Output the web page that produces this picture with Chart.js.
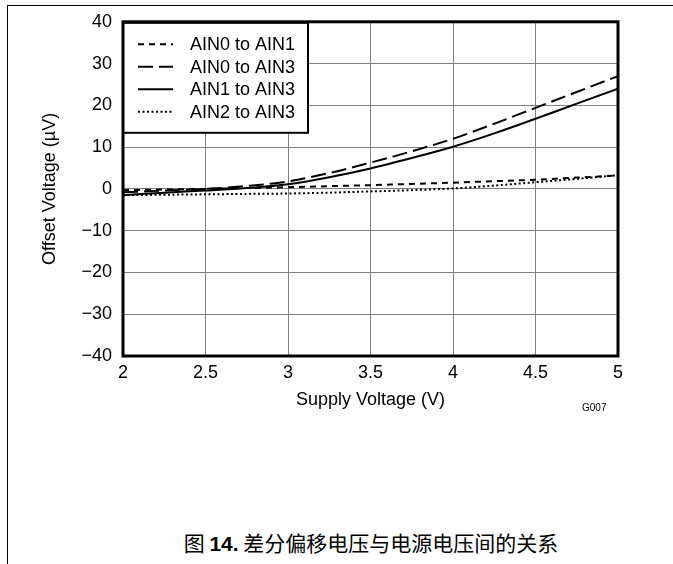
<!DOCTYPE html>
<html>
<head>
<meta charset="utf-8">
<script src="https://cdn.jsdelivr.net/npm/chart.js@4"></script>
<style>
  body { margin: 0; background: #fff; }
  #page { position: relative; width: 673px; height: 564px; overflow: hidden; }
  #frame { position: absolute; left: 7px; top: 5px; right: 0; bottom: 0;
           border-top: 1px solid #000; border-left: 1px solid #000; }
  #plot { position: absolute; left: 0; top: 0; }
  #code { position: absolute; left: 582px; top: 402px; font: 10px "Liberation Sans", Arial, sans-serif; color: #000; }
  #caption { position: absolute; left: 0; width: 742px; top: 527px; text-align: center;
             font: 21px "Noto Sans CJK SC", sans-serif; color: #000; }
  #caption b { font-family: "Liberation Sans", Arial, sans-serif; }
</style>
</head>
<body>
<div id="page">
  <div id="frame"></div>
  <canvas id="plot" width="673" height="430"></canvas>
  <div id="code">G007</div>
  <div id="caption">图 <b>14.</b> 差分偏移电压与电源电压间的关系</div>
</div>
<script>
// supply voltage (V)
const supplyVoltage = [2, 2.25, 2.5, 2.75, 3, 3.25, 3.5, 3.75, 4, 4.25, 4.5, 4.75, 5];

// offset voltage (uV)
const ain0ToAin1 = [-0.3, -0.15, 0, 0.2, 0.4, 0.65, 0.9, 1.2, 1.5, 1.85, 2.2, 2.7, 3.2];
const ain0ToAin3 = [-0.8, -0.4, 0, 0.7, 1.8, 3.8, 6.3, 9.0, 12.0, 15.6, 19.4, 23.2, 27.0];
const ain1ToAin3 = [-1.5, -0.9, -0.4, 0.2, 1.1, 2.8, 4.9, 7.4, 10.1, 13.3, 16.8, 20.4, 24.0];
const ain2ToAin3 = [-1.5, -1.4, -1.3, -1.2, -1.1, -0.9, -0.6, -0.3, 0.1, 0.8, 1.6, 2.4, 3.3];

const seriesNames = ['AIN0 to AIN1', 'AIN0 to AIN3', 'AIN1 to AIN3', 'AIN2 to AIN3'];

const FONT = '"Liberation Sans", Arial, sans-serif';
const SIZE = 18;

function toPoints(ys) {
    return ys.map((y, i) => ({ x: supplyVoltage[i], y: y }));
}

function line(label, ys, dash) {
    return {
        label: label,
        data: toPoints(ys),
        borderColor: '#000',
        borderWidth: 2,
        borderDash: dash,
        pointRadius: 0,
        fill: false,
        cubicInterpolationMode: 'monotone',
    };
}

// frame round the plot area and the boxed legend in its top left corner
const framePlugin = {
    id: 'frame',
    afterDraw(chart) {
        const ctx = chart.ctx;
        const a = chart.chartArea;
        ctx.save();

        // legend
        const lx = a.left, ly = a.top, lw = 185, lh = 111;
        ctx.fillStyle = '#fff';
        ctx.fillRect(lx, ly, lw, lh);
        ctx.strokeStyle = '#000';
        ctx.lineWidth = 2;
        ctx.strokeRect(lx, ly + 1, lw, lh - 1);
        ctx.font = SIZE + 'px ' + FONT;
        ctx.textBaseline = 'middle';
        ctx.fillStyle = '#000';
        chart.data.datasets.forEach((ds, i) => {
            const cy = ly + 22.5 + i * 22.5;
            ctx.setLineDash(ds.borderDash || []);
            ctx.lineWidth = ds.borderWidth;
            ctx.beginPath();
            ctx.moveTo(lx + 15, cy);
            ctx.lineTo(lx + 50, cy);
            ctx.stroke();
            ctx.setLineDash([]);
            ctx.fillText(ds.label, lx + 67, cy + 1);
        });

        // plot frame
        ctx.lineWidth = 3;
        ctx.strokeRect(a.left, a.top, a.right - a.left, a.bottom - a.top);
        ctx.restore();
    }
};

const plot = document.getElementById('plot').getContext('2d');
new Chart(plot, {
    type: 'line',
    data: {
        datasets: [
            line(seriesNames[0], ain0ToAin1, [6, 5]),
            line(seriesNames[1], ain0ToAin3, [15, 6]),
            line(seriesNames[2], ain1ToAin3, []),
            line(seriesNames[3], ain2ToAin3, [2, 2.5]),
        ]
    },
    options: {
        responsive: false,
        animation: false,
        layout: { padding: { left: 0, top: 21, right: 55, bottom: 0 } },
        plugins: {
            legend: { display: false },
            tooltip: { enabled: false },
        },
        scales: {
            x: {
                type: 'linear',
                min: 2,
                max: 5,
                afterFit: (scale) => { scale.height = 74; },
                ticks: {
                    stepSize: 0.5,
                    color: '#000',
                    padding: 6,
                    font: { family: FONT, size: SIZE },
                    callback: (v) => String(v),
                },
                grid: { color: '#808080', lineWidth: 1, drawTicks: false },
                border: { display: false },
                title: {
                    display: true,
                    text: 'Supply Voltage (V)',
                    color: '#000',
                    font: { family: FONT, size: SIZE },
                    padding: { top: 19, bottom: 19 },
                },
            },
            y: {
                min: -40,
                max: 40,
                afterFit: (scale) => { scale.width = 123; },
                ticks: {
                    stepSize: 10,
                    color: '#000',
                    padding: 11,
                    font: { family: FONT, size: SIZE },
                    callback: (v) => String(v).replace('-', '\u2212'),
                },
                grid: { color: '#808080', lineWidth: 1, drawTicks: false },
                border: { display: false },
                title: {
                    display: true,
                    text: 'Offset Voltage (\u00b5V)',
                    color: '#000',
                    font: { family: FONT, size: SIZE },
                    padding: { top: 39, bottom: 39 },
                },
            },
        },
    },
    plugins: [framePlugin],
});
</script>
</body>
</html>
